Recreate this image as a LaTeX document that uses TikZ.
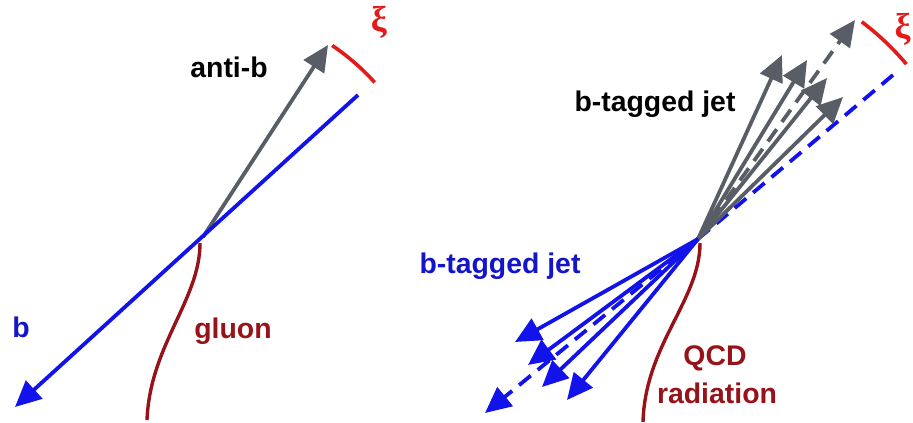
\documentclass[tikz,border=0pt]{standalone}
\usepackage{fontspec}
\setmainfont{Liberation Sans}
\newfontfamily\xifont{Liberation Serif}
\usetikzlibrary{arrows.meta, positioning}
\definecolor{jetgray}{RGB}{88,93,102}
\definecolor{jetblue}{RGB}{18,18,235}
\definecolor{textblue}{RGB}{20,20,200}
\definecolor{gluonred}{RGB}{150,20,25}
\definecolor{xired}{RGB}{228,25,25}

\begin{document}
\begin{tikzpicture}[
    x=0.5pt, y=-0.5pt,
    every node/.style = {font=\fontsize{14.2}{16}\selectfont\bfseries, inner sep=0pt},
    arrline/.style    = {-{Triangle[length=13pt, width=12pt]}, line width=1.9pt},
    grayjet/.style    = {arrline, jetgray},
    bluejet/.style    = {arrline, jetblue},
    dashjet/.style    = {dash pattern=on 7.5pt off 4.5pt},
    radline/.style    = {gluonred, line width=1.7pt},
    coneline/.style   = {xired, line width=1.8pt},
    xilabel/.style    = {text=xired, font=\xifont\bfseries\fontsize{18}{20}\selectfont},
]
\useasboundingbox (0,0) rectangle (913,422);

% Left: b anti-b pair from a gluon
\coordinate (vtxL)  at (203,237);
\coordinate (bTop)  at (358,95);
\coordinate (bTip)  at (15,407);
\coordinate (abTip) at (328,45);
\coordinate (gluEnd) at (147,420);

\draw[radline] (vtxL) ++(-3,6) .. controls (200,300) and (150,345) .. (gluEnd);
\draw[grayjet] (vtxL) -- (abTip);
\draw[bluejet] (bTop) -- (bTip);
\draw[coneline] (vtxL) ++(-56:231) arc[start angle=-56, end angle=-42, radius=231];

\node[anchor=base] (lblAntiB) at (229,78) {anti-b};
\node[anchor=base, text=textblue] (lblB) at (21,337) {b};
\node[anchor=base, text=gluonred] (lblGluon) at (233,338) {gluon};
\node[xilabel] (xiL) at (379,22) {ξ};

% Right: two b-tagged jets with QCD radiation
\coordinate (vtxR) at (698,239);
\coordinate (qcdEnd) at (643,422);
\coordinate (g1) at (782,55);
\coordinate (g2) at (807,60);
\coordinate (g3) at (827,78);
\coordinate (g4) at (843,97);
\coordinate (gAxis) at (855,20);
\coordinate (bAxis) at (893,75);
\coordinate (j1) at (515,342);
\coordinate (j2) at (528,365);
\coordinate (j3) at (542,387);
\coordinate (j4) at (567,400);
\coordinate (jAxis) at (485,413);

\draw[radline] (vtxR) ++(2,4) .. controls (700,300) and (645,345) .. (qcdEnd);
\draw[jetblue, line width=1.9pt, dashjet] (vtxR) -- (bAxis);
\foreach \T in {g1,g2,g3,g4}{
  \draw[grayjet] (vtxR) -- (\T);
}
\draw[grayjet, dashjet] (vtxR) -- (gAxis);
\foreach \T in {j1,j2,j3,j4}{
  \draw[bluejet] (vtxR) -- (\T);
}
\draw[bluejet, dashjet] (vtxR) -- (jAxis);
\draw[coneline] (vtxR) ++(-53:272) arc[start angle=-53, end angle=-40, radius=272];

\node[anchor=base] (lblJetUp) at (655,112) {b-tagged jet};
\node[anchor=base, text=textblue] (lblJetDown) at (500,273) {b-tagged jet};
\node[anchor=base, text=gluonred] (lblQCD) at (715,365) {QCD};
\node[anchor=base, text=gluonred] (lblRad) at (717,403) {radiation};
\node[xilabel, anchor=east] (xiR) at (911,29) {ξ};

\end{tikzpicture}
\end{document}
